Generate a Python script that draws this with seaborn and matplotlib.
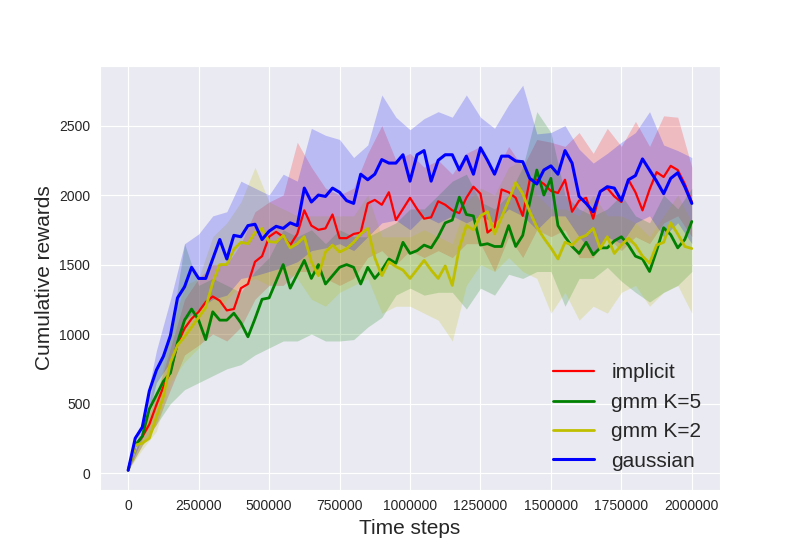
import pandas as pd
import numpy as np
import matplotlib
matplotlib.use('Agg')
import matplotlib.pyplot as plt
import seaborn as sns

# time grid of the mean curves (every 25k steps) and of the bands (every 50k steps)
steps = [i * 25000 for i in range(81)]
band_steps = [j * 50000 for j in range(41)]

implicit_mean = [20, 200, 260, 350, 490, 620, 730, 930, 1040, 1110,
                 1160, 1230, 1270, 1240, 1170, 1180, 1330, 1360, 1520, 1560,
                 1700, 1735, 1700, 1640, 1720, 1890, 1780, 1750, 1760, 1860,
                 1690, 1690, 1720, 1730, 1940, 1965, 1930, 2020, 1820, 1900,
                 1980, 1900, 1830, 1840, 1955, 1930, 1890, 1870, 1980, 2060,
                 2010, 1730, 1770, 2040, 2020, 1980, 1850, 2110, 2110, 2080,
                 2030, 2015, 2110, 1880, 1960, 1980, 1830, 2025, 2050, 1990,
                 1950, 2110, 2020, 1890, 2040, 2165, 2130, 2210, 2180, 2080,
                 1950]
gmm5_mean = [20, 200, 265, 460, 560, 660, 720, 940, 1100, 1180,
             1100, 960, 1160, 1100, 1100, 1150, 1080, 980, 1110, 1250,
             1260, 1380, 1500, 1330, 1430, 1530, 1400, 1500, 1360, 1420,
             1480, 1500, 1480, 1360, 1480, 1400, 1460, 1540, 1510, 1660,
             1580, 1600, 1640, 1620, 1700, 1800, 1820, 1985, 1860, 1850,
             1640, 1650, 1630, 1630, 1780, 1630, 1710, 1950, 2180, 2000,
             2120, 1780, 1700, 1630, 1580, 1660, 1570, 1620, 1620, 1670,
             1700, 1640, 1560, 1540, 1450, 1600, 1765, 1715, 1620, 1680,
             1810]
gmm2_mean = [20, 200, 215, 250, 400, 550, 795, 920, 980, 1050,
             1120, 1190, 1370, 1500, 1500, 1610, 1660, 1650, 1730, 1760,
             1665, 1660, 1710, 1620, 1650, 1700, 1520, 1420, 1590, 1640,
             1590, 1615, 1660, 1720, 1760, 1550, 1420, 1520, 1485, 1460,
             1400, 1465, 1530, 1460, 1400, 1490, 1350, 1620, 1780, 1750,
             1850, 1880, 1720, 1840, 1960, 2090, 2010, 1880, 1770, 1690,
             1620, 1540, 1660, 1640, 1690, 1710, 1760, 1615, 1700, 1580,
             1640, 1690, 1640, 1560, 1510, 1640, 1660, 1800, 1720, 1630,
             1615]
gaussian_mean = [20, 250, 330, 590, 740, 840, 990, 1260, 1340, 1480,
                 1400, 1400, 1540, 1680, 1540, 1710, 1700, 1780, 1790, 1680,
                 1740, 1775, 1760, 1800, 1780, 2050, 1950, 2000, 1990, 2050,
                 2020, 1960, 1940, 2150, 2110, 2150, 2255, 2230, 2230, 2290,
                 2100, 2290, 2320, 2100, 2250, 2290, 2290, 2180, 2280, 2150,
                 2340, 2250, 2150, 2280, 2280, 2245, 2240, 2120, 2080, 2180,
                 2210, 2150, 2320, 2230, 1990, 1940, 1880, 2025, 2060, 2050,
                 1960, 2110, 2140, 2260, 2180, 2100, 2010, 2120, 2160, 2060,
                 1940]

implicit_low = [20, 200, 350, 600, 850, 920, 1000, 950, 1050, 1250,
                1350, 1350, 1450, 1450, 1400, 1350, 1400, 1550, 1600, 1500,
                1600, 1550, 1600, 1550, 1650, 1650, 1450, 1700, 1550, 1750,
                1700, 1750, 1550, 1550, 1700, 1600, 1700, 1650, 1800, 1850,
                1700]
implicit_high = [20, 300, 560, 900, 1250, 1400, 1500, 1500, 1650, 1880,
                 1950, 2000, 2380, 2200, 2050, 2000, 2050, 2300, 2500, 2250,
                 2300, 2200, 2250, 2150, 2300, 2350, 2150, 2350, 2200, 2400,
                 2380, 2350, 2450, 2300, 2480, 2350, 2530, 2350, 2570, 2560,
                 2200]
gmm5_low = [20, 200, 350, 500, 600, 650, 700, 750, 780, 850,
            900, 950, 950, 1000, 950, 950, 960, 1050, 1120, 1280,
            1330, 1280, 1300, 1300, 1180, 1330, 1280, 1430, 1400, 1450,
            1450, 1200, 1400, 1400, 1480, 1380, 1300, 1230, 1300, 1350,
            1450]
gmm5_high = [20, 300, 750, 1000, 1650, 1350, 1400, 1350, 1300, 1450,
             1550, 1750, 1700, 1750, 1650, 1750, 1700, 1700, 1750, 1800,
             1900, 1900, 2000, 2100, 2150, 1950, 1900, 2000, 2200, 2600,
             2450, 2000, 1900, 1850, 1900, 2000, 1850, 1800, 2000, 1900,
             2050]
gmm2_low = [20, 170, 300, 650, 800, 900, 1100, 1250, 1350, 1400,
            1350, 1450, 1400, 1250, 1200, 1300, 1350, 1400, 1150, 1200,
            1200, 1150, 1100, 950, 1350, 1500, 1450, 1550, 1450, 1400,
            1150, 1300, 1100, 1200, 1150, 1300, 1350, 1200, 1300, 1350,
            1150]
gmm2_high = [20, 280, 550, 1000, 1350, 1400, 1700, 1800, 1950, 2200,
             1950, 1900, 1850, 1850, 1850, 1850, 1850, 2000, 1700, 1700,
             1700, 1750, 1700, 1650, 1950, 2050, 2000, 2200, 2250, 2000,
             1900, 1900, 1850, 2000, 1850, 1850, 1800, 1700, 1850, 2000,
             1800]
gaussian_low = [20, 250, 650, 800, 1100, 1180, 1250, 1280, 1400, 1420,
                1450, 1480, 1520, 1600, 1620, 1650, 1600, 1700, 1800, 1820,
                1750, 1850, 1800, 1850, 1800, 1850, 1800, 1900, 1850, 1750,
                1850, 1850, 1700, 1580, 1700, 1650, 1800, 1850, 1700, 1800,
                1650]
gaussian_high = [20, 380, 880, 1250, 1650, 1720, 1850, 1880, 2100, 2050,
                 2000, 2150, 2100, 2480, 2430, 2400, 2270, 2360, 2720, 2560,
                 2470, 2550, 2600, 2560, 2720, 2560, 2480, 2650, 2790, 2440,
                 2450, 2500, 2330, 2230, 2300, 2380, 2450, 2600, 2360, 2320,
                 2270]

labels = ['implicit', 'gmm K=5', 'gmm K=2', 'gaussian']
colors = ['r', 'g', 'y', 'b']
means = [implicit_mean, gmm5_mean, gmm2_mean, gaussian_mean]
lows = [implicit_low, gmm5_low, gmm2_low, gaussian_low]
highs = [implicit_high, gmm5_high, gmm2_high, gaussian_high]
widths = [1.6, 2.0, 2.0, 2.2]

sns.set_style('darkgrid')
plt.rcParams['font.family'] = ['Liberation Sans', 'DejaVu Sans']

fig, ax = plt.subplots(figsize=(8, 5.5), dpi=100)

for lab, col, m, lo, hi, lw in zip(labels, colors, means, lows, highs, widths):
    df = pd.DataFrame({'step': steps, 'reward': m})
    sns.lineplot(x='step', y='reward', data=df, color=col, label=lab, linewidth=lw, ax=ax)
    ax.fill_between(band_steps, lo, hi, color=col, alpha=0.2, linewidth=0)

ax.set_xticks(range(0, 2000001, 250000))
ax.set_yticks(range(0, 2501, 500))
ax.ticklabel_format(style='plain', useOffset=False)
ax.tick_params(labelsize=10)
ax.set_xlabel('Time steps', fontsize=15)
ax.set_ylabel('Cumulative rewards', fontsize=15)
ax.legend(loc='lower right', fontsize=15, frameon=False)

fig.savefig('out.png', dpi=100)
